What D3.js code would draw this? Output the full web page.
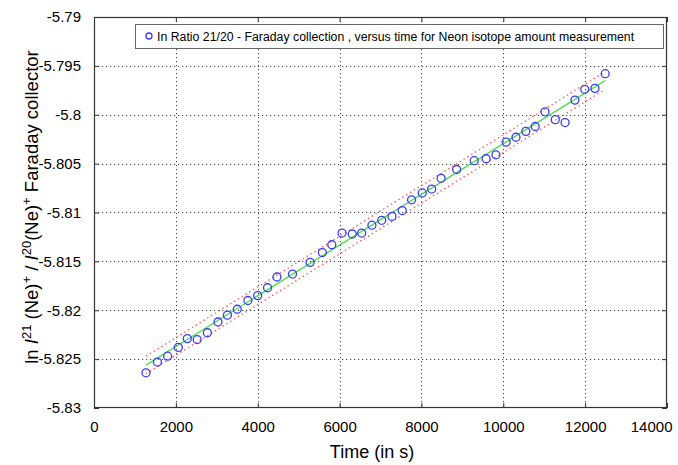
<!DOCTYPE html>
<html><head><meta charset="utf-8">
<script src="https://cdn.jsdelivr.net/npm/d3@7/dist/d3.min.js"></script>
<style>
body{margin:0;background:#fff}
text{font-family:"Liberation Sans",Arial,Helvetica,sans-serif;fill:#000}
</style>
</head><body>
<svg id="chart" width="678" height="465"></svg>
<script>
// ---- data ----
const timeS = [1270,1550,1800,2060,2280,2520,2770,3030,3260,3500,3760,4000,4240,4470,4850,5280,5580,5810,6060,6310,6540,6790,7030,7280,7530,7760,8020,8250,8480,8860,9290,9580,9820,10070,10310,10550,10780,11020,11270,11510,11750,11990,12240,12490];
const lnRatio = [-5.8264,-5.8253,-5.8247,-5.8238,-5.8229,-5.8230,-5.8223,-5.8212,-5.8205,-5.8199,-5.8190,-5.8185,-5.8177,-5.8166,-5.8163,-5.8151,-5.8141,-5.8133,-5.8121,-5.8122,-5.8121,-5.8113,-5.8108,-5.8104,-5.8098,-5.8087,-5.8080,-5.8076,-5.8065,-5.8056,-5.8047,-5.8045,-5.8041,-5.8028,-5.8023,-5.8017,-5.8012,-5.7997,-5.8005,-5.8008,-5.7985,-5.7974,-5.7973,-5.7958];
const fitTime = [1270, 12490];
const fitValue = [-5.8256, -5.7965];
const upperBand = [-5.8247, -5.7956];
const lowerBand = [-5.8265, -5.7974];
const xTicks = [0,2000,4000,6000,8000,10000,12000,14000];
const xTickLabels = ["0","2000","4000","6000","8000","10000","12000","14000"];
const yTicks = [-5.83,-5.825,-5.82,-5.815,-5.81,-5.805,-5.8,-5.795,-5.79];
const yTickLabels = ["-5.83","-5.825","-5.82","-5.815","-5.81","-5.805","-5.8","-5.795","-5.79"];
const legendLabel = "In Ratio 21/20 - Faraday collection , versus time for Neon isotope amount measurement";

// ---- layout ----
const W = 678, H = 465;
const m = {left: 94, right: 11, top: 17, bottom: 57};
const svg = d3.select("#chart");
svg.append("rect").attr("width", W).attr("height", H).attr("fill", "#fff");

const x = d3.scaleLinear().domain([0, 14000]).range([m.left, W - m.right]);
const y = d3.scaleLinear().domain([-5.83, -5.79]).range([H - m.bottom, m.top]);
const x0 = x.range()[0], x1 = x.range()[1], y0 = y.range()[0], y1 = y.range()[1];

// grid
const grid = svg.append("g").attr("stroke", "#444").attr("stroke-width", 1).attr("stroke-dasharray", "1.2,2.8");
grid.selectAll(".gx").data(xTicks.slice(1, -1)).enter().append("line")
  .attr("x1", d => Math.round(x(d)) + 0.5).attr("x2", d => Math.round(x(d)) + 0.5)
  .attr("y1", y1).attr("y2", y0);
grid.selectAll(".gy").data(yTicks.slice(1, -1)).enter().append("line")
  .attr("y1", d => Math.round(y(d)) + 0.5).attr("y2", d => Math.round(y(d)) + 0.5)
  .attr("x1", x0).attr("x2", x1);

// confidence bands (red dotted)
const line = d3.line().x(d => x(d[0])).y(d => y(d[1]));
[upperBand, lowerBand].forEach(b => {
  svg.append("path").datum(fitTime.map((t, i) => [t, b[i]]))
    .attr("d", line).attr("fill", "none").attr("stroke", "#ff5555")
    .attr("stroke-width", 1.3).attr("stroke-dasharray", "1.5,3");
});
// fit line (green)
svg.append("path").datum(fitTime.map((t, i) => [t, fitValue[i]]))
  .attr("d", line).attr("fill", "none").attr("stroke", "#33e033").attr("stroke-width", 1.2);

// points
svg.append("g").selectAll("circle").data(timeS.map((t, i) => [t, lnRatio[i]])).enter()
  .append("circle").attr("cx", d => x(d[0])).attr("cy", d => y(d[1])).attr("r", 4)
  .attr("fill", "none").attr("stroke", "#3a3aff").attr("stroke-width", 1.3);

// axes (MATLAB box with inward ticks)
const axB = d3.axisBottom(x).tickValues(xTicks).tickFormat((d, i) => xTickLabels[i]).tickSizeInner(-5).tickSizeOuter(0).tickPadding(13);
const axL = d3.axisLeft(y).tickValues(yTicks).tickFormat((d, i) => yTickLabels[i]).tickSizeInner(-5).tickSizeOuter(0).tickPadding(13);
const axT = d3.axisTop(x).tickValues(xTicks).tickFormat("").tickSizeInner(-5).tickSizeOuter(0);
const axR = d3.axisRight(y).tickValues(yTicks).tickFormat("").tickSizeInner(-5).tickSizeOuter(0);
function style(g){ g.select(".domain").remove(); g.selectAll("line").attr("stroke", "#333"); g.selectAll("text").attr("font-size", 15).attr("fill", "#000").attr("font-family", "Liberation Sans, Arial, sans-serif"); }
const gB = svg.append("g").attr("transform", `translate(0,${y0})`).call(axB).call(style);
// last label kept inside the figure, as in the reference
gB.selectAll(".tick").filter(d => d === xTicks[xTicks.length - 1]).select("text")
  .attr("text-anchor", "end").attr("x", W - 6 - x1);
svg.append("g").attr("transform", `translate(${x0},0)`).call(axL).call(style);
svg.append("g").attr("transform", `translate(0,${y1})`).call(axT).call(style);
svg.append("g").attr("transform", `translate(${x1},0)`).call(axR).call(style);
svg.append("rect").attr("x", x0 + 0.5).attr("y", y1 + 0.5).attr("width", x1 - x0 - 1).attr("height", y0 - y1 - 1)
  .attr("fill", "none").attr("stroke", "#333").attr("stroke-width", 1.2);

// axis titles
svg.append("text").attr("x", 372).attr("y", 458).attr("text-anchor", "middle")
  .attr("font-size", 18).text("Time (in s)");
const yt = svg.append("text").attr("transform", `translate(38,207) rotate(-90)`)
  .attr("text-anchor", "middle").attr("font-size", 18.5);
yt.append("tspan").text("ln ");
yt.append("tspan").attr("font-style", "italic").text("I");
yt.append("tspan").attr("font-size", 13).attr("dy", -7).text("21");
yt.append("tspan").attr("dy", 7).text(" (Ne)");
yt.append("tspan").attr("font-size", 13).attr("dy", -7).text("+");
yt.append("tspan").attr("dy", 7).text(" / ");
yt.append("tspan").attr("font-style", "italic").text("I");
yt.append("tspan").attr("font-size", 13).attr("dy", -7).text("20");
yt.append("tspan").attr("dy", 7).text("(Ne)");
yt.append("tspan").attr("font-size", 13).attr("dy", -7).text("+");
yt.append("tspan").attr("dy", 7).text(" Faraday collector");

// legend
const lg = svg.append("g");
lg.append("rect").attr("x", 135.5).attr("y", 24.5).attr("width", 528).attr("height", 24)
  .attr("fill", "#fff").attr("stroke", "#666").attr("stroke-width", 1);
lg.append("circle").attr("cx", 149).attr("cy", 36).attr("r", 3)
  .attr("fill", "none").attr("stroke", "#3a3aff").attr("stroke-width", 1.3);
lg.append("text").attr("x", 157).attr("y", 40.5).attr("font-size", 12.3).text(legendLabel);
</script>
</body></html>
